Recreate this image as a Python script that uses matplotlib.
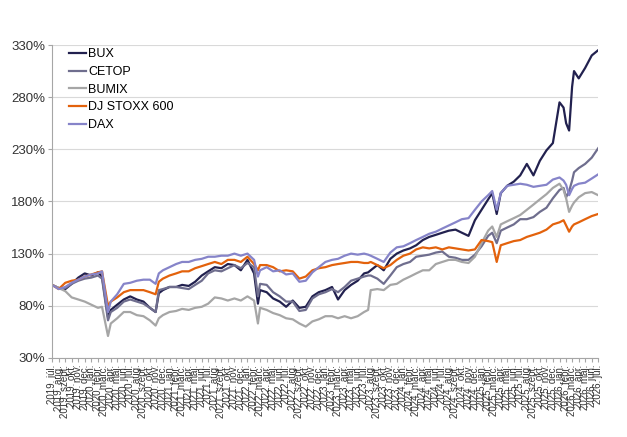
import matplotlib
matplotlib.use("Agg")
import matplotlib.pyplot as plt
import pandas as pd

plt.rcParams['font.family'] = ['Liberation Sans', 'DejaVu Sans']

# sampling dates (mostly month starts, extra points at the sharp moves)
dates = [
    "2019-07-01", "2019-08-01", "2019-09-01", "2019-10-01", "2019-11-01", "2019-12-01",
    "2020-01-01", "2020-02-01", "2020-02-20", "2020-03-19", "2020-04-01", "2020-05-01",
    "2020-06-01", "2020-07-01", "2020-08-01", "2020-09-01", "2020-10-01", "2020-10-28",
    "2020-11-12", "2020-12-01", "2021-01-01", "2021-02-01", "2021-03-01", "2021-04-01",
    "2021-05-01", "2021-06-01", "2021-07-01", "2021-08-01", "2021-09-01", "2021-10-01",
    "2021-11-01", "2021-12-01", "2022-01-01", "2022-02-01", "2022-02-19", "2022-03-01",
    "2022-04-01", "2022-05-01", "2022-06-01", "2022-07-01", "2022-08-01", "2022-09-01",
    "2022-10-01", "2022-11-01", "2022-12-01", "2023-01-01", "2023-02-01", "2023-03-01",
    "2023-04-01", "2023-05-01", "2023-06-01", "2023-07-01", "2023-07-20", "2023-08-01",
    "2023-09-01", "2023-10-01", "2023-11-01", "2023-12-01", "2024-01-01", "2024-02-01",
    "2024-03-01", "2024-04-01", "2024-05-01", "2024-06-01", "2024-07-01", "2024-08-01",
    "2024-09-01", "2024-10-01", "2024-11-01", "2024-12-01", "2025-01-01", "2025-02-01",
    "2025-02-20", "2025-03-13", "2025-04-01", "2025-05-01", "2025-06-01", "2025-07-01",
    "2025-08-01", "2025-09-01", "2025-10-01", "2025-11-01", "2025-12-01", "2026-01-01",
    "2026-01-20", "2026-02-01", "2026-02-15", "2026-03-01", "2026-03-10", "2026-04-01",
    "2026-05-01", "2026-06-01", "2026-07-01",
]

bux = [100, 97, 96, 101, 107, 111, 109, 112, 108, 69, 76, 81,
       86, 89, 86, 84, 78, 74, 92, 95, 98, 98, 100, 99,
       103, 109, 113, 117, 116, 120, 119, 114, 124, 111, 82, 95,
       93, 87, 84, 79, 85, 78, 79, 89, 93, 95, 98, 86,
       95, 100, 104, 111, 112, 114, 119, 114, 125, 130, 133, 135,
       138, 143, 146, 148, 150, 152, 153, 150, 147, 162, 172, 182,
       188, 168, 188, 195, 199, 205, 216, 205, 219, 229, 236, 275,
       270, 255, 248, 290, 305, 298, 308, 320, 325]

cetop = [100, 97, 97, 101, 104, 106, 107, 109, 106, 66, 74, 78,
         84, 86, 84, 82, 78, 74, 95, 96, 98, 98, 97, 96,
         100, 104, 111, 114, 113, 116, 119, 116, 121, 117, 89, 101,
         100, 93, 89, 84, 84, 75, 76, 87, 91, 93, 96, 93,
         98, 104, 106, 108, 109, 109, 106, 101, 109, 117, 120, 122,
         127, 128, 129, 131, 132, 127, 126, 124, 124, 129, 137, 147,
         150, 140, 152, 155, 158, 163, 163, 165, 170, 174, 183, 191,
         193, 184, 190, 200, 208, 212, 216, 222, 231]

bumix = [100, 97, 94, 88, 86, 84, 81, 78, 79, 51, 63, 68,
         74, 74, 71, 70, 66, 61, 68, 71, 74, 75, 77, 76,
         78, 79, 82, 88, 87, 85, 87, 85, 89, 85, 63, 78,
         76, 73, 71, 68, 67, 63, 60, 65, 67, 70, 70, 68,
         70, 68, 70, 74, 76, 95, 96, 95, 100, 101, 105, 108,
         111, 114, 114, 120, 122, 124, 124, 122, 121, 127, 140, 152,
         156, 146, 158, 161, 164, 167, 172, 177, 182, 187, 193, 197,
         191, 183, 170, 176, 179, 184, 188, 189, 186]

stoxx = [100, 96, 102, 104, 105, 108, 110, 112, 113, 80, 84, 88,
         93, 95, 95, 95, 93, 91, 103, 106, 109, 111, 113, 113,
         116, 118, 120, 122, 120, 124, 124, 122, 127, 120, 114, 119,
         119, 117, 113, 114, 113, 106, 108, 114, 116, 117, 119, 120,
         121, 122, 122, 121, 121, 122, 119, 116, 119, 124, 128, 130,
         134, 136, 135, 136, 134, 136, 135, 134, 133, 134, 143, 142,
         141, 122, 138, 140, 142, 143, 146, 148, 150, 153, 158, 160,
         162, 157, 151, 156, 158, 160, 163, 166, 168]

dax = [100, 96, 98, 102, 105, 108, 110, 111, 113, 74, 84, 91,
       101, 102, 104, 105, 105, 101, 111, 114, 117, 120, 122, 122,
       124, 125, 127, 127, 128, 128, 130, 128, 130, 124, 108, 114,
       117, 113, 114, 110, 111, 103, 104, 112, 117, 122, 124, 125,
       128, 130, 129, 130, 129, 128, 125, 122, 131, 136, 137, 140,
       143, 146, 149, 151, 154, 157, 160, 163, 164, 172, 180, 186,
       190, 172, 188, 195, 196, 197, 196, 194, 195, 196, 201, 203,
       200, 196, 186, 192, 195, 197, 198, 202, 206]

series = [("BUX", bux, "#22214f"),
          ("CETOP", cetop, "#6f6e8e"),
          ("BUMIX", bumix, "#a6a6a6"),
          ("DJ STOXX 600", stoxx, "#e3620c"),
          ("DAX", dax, "#8684c9")]

months_hu = ["jan.", "febr.", "márc.", "ápr.", "máj.", "jún.",
             "júl.", "aug.", "szept.", "okt.", "nov.", "dec."]

x = pd.to_datetime(dates)

fig = plt.figure(figsize=(6.27, 4.37), dpi=100)
ax = fig.add_axes([0.083, 0.181, 0.871, 0.716])

for name, vals, col in series:
    ax.plot(x, vals, color=col, lw=1.6, label=name, solid_joinstyle='round')

ax.set_ylim(30, 330)
ax.set_yticks(range(30, 331, 50))
ax.set_yticklabels([f"{v}%" for v in range(30, 331, 50)], fontsize=9.5, color="#333333")
ax.yaxis.grid(True, color="#d9d9d9", lw=0.8)
ax.set_axisbelow(True)

ticks = pd.date_range("2019-07-01", "2026-07-01", freq="MS")
ax.set_xlim(ticks[0], ticks[-1])
ax.set_xticks(ticks)
ax.set_xticklabels([f"{d.year}. {months_hu[d.month - 1]}" for d in ticks],
                   rotation=90, fontsize=7, color="#333333")

for s in ["top", "right"]:
    ax.spines[s].set_visible(False)
for s in ["left", "bottom"]:
    ax.spines[s].set_color("#a6a6a6")
ax.tick_params(axis="both", color="#a6a6a6", length=3, pad=2)

ax.legend(loc="upper left", bbox_to_anchor=(0.01, 1.025), frameon=False,
          fontsize=9, handlelength=1.35, handletextpad=0.2, labelspacing=0.45)

fig.savefig("out.png", dpi=100)
